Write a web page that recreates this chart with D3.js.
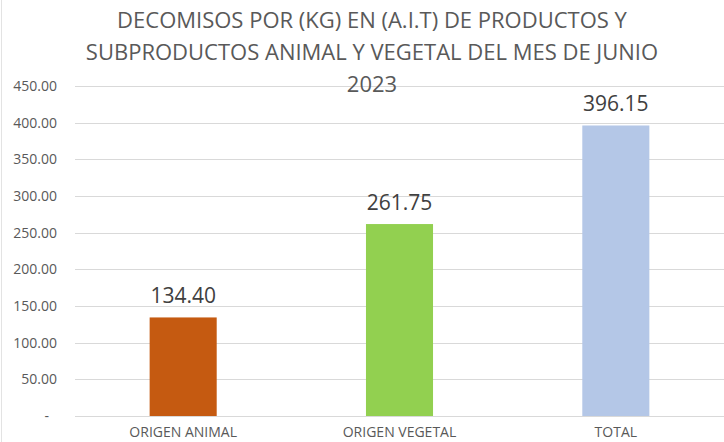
<!DOCTYPE html>
<html lang="es">
<head>
<meta charset="UTF-8">
<title>Decomisos junio 2023</title>
<script src="https://d3js.org/d3.v7.min.js"></script>
<style>
    body { margin: 0; background: #fff; font-family: "Open Sans", Arial, sans-serif; }
    .grid line { stroke: #d9d9d9; stroke-width: 1px; }
    .axis text { fill: #595959; font-size: 14px; font-family: "Open Sans", Arial, sans-serif; }
    .title { fill: #595959; font-size: 22px; text-anchor: middle; }
    .value-label { fill: #404040; font-size: 21px; text-anchor: middle; }
    .border { stroke: #e3e3e3; stroke-width: 1px; }
</style>
</head>
<body>
<svg id="chart" width="724" height="442"></svg>
<script>
    var categories = ["ORIGEN ANIMAL", "ORIGEN VEGETAL", "TOTAL"];
    var values = [134.40, 261.75, 396.15];
    var colors = ["#c55a11", "#92d050", "#b4c7e7"];
    var yTicks = [0, 50, 100, 150, 200, 250, 300, 350, 400, 450];
    var titleLines = [
        "DECOMISOS POR (KG) EN (A.I.T) DE PRODUCTOS Y",
        "SUBPRODUCTOS ANIMAL Y VEGETAL DEL MES DE JUNIO",
        "2023"
    ];

    var margin = {top: 86, right: 0, bottom: 26, left: 75};
    var width = 724, height = 442;

    var svg = d3.select("#chart");

    // faint frame edge on the left, like the screenshot
    svg.append("line")
        .attr("class", "border")
        .attr("x1", 1.5).attr("x2", 1.5)
        .attr("y1", 0).attr("y2", height);

    var x = d3.scaleBand()
        .domain(categories)
        .range([margin.left, width - margin.right])
        .paddingInner(0.69)
        .paddingOuter(0.345);

    var y = d3.scaleLinear()
        .domain([0, 450])
        .range([height - margin.bottom, margin.top]);

    // gridlines
    svg.append("g")
        .attr("class", "grid")
        .selectAll("line")
        .data(yTicks)
      .enter().append("line")
        .attr("x1", margin.left)
        .attr("x2", width)
        .attr("y1", d => Math.round(y(d)) + 0.5)
        .attr("y2", d => Math.round(y(d)) + 0.5);

    // y axis labels
    var yAxis = d3.axisLeft(y)
        .tickValues(yTicks)
        .tickSize(0)
        .tickPadding(0)
        .tickFormat(d => d === 0 ? "-" : d3.format(".2f")(d));

    svg.append("g")
        .attr("class", "axis")
        .attr("transform", "translate(" + (margin.left - 18) + ",0)")
        .call(yAxis)
        .call(g => g.select(".domain").remove())
        .call(g => g.selectAll("text").filter(d => d === 0).attr("dx", "-8px"));

    // x axis labels
    var xAxis = d3.axisBottom(x).tickSize(0).tickPadding(0);
    svg.append("g")
        .attr("class", "axis")
        .attr("transform", "translate(0," + (height - 15) + ")")
        .call(xAxis)
        .call(g => g.select(".domain").remove());

    // bars
    svg.selectAll(".bar")
        .data(values)
      .enter().append("rect")
        .attr("class", "bar")
        .attr("x", (d, i) => x(categories[i]))
        .attr("width", x.bandwidth())
        .attr("y", d => y(d))
        .attr("height", d => y(0) - y(d))
        .attr("fill", (d, i) => colors[i]);

    // value labels
    svg.selectAll(".value-label")
        .data(values)
      .enter().append("text")
        .attr("class", "value-label")
        .attr("x", (d, i) => x(categories[i]) + x.bandwidth() / 2)
        .attr("y", d => y(d) - 14)
        .text(d => d3.format(".2f")(d));

    // title
    svg.selectAll(".title")
        .data(titleLines)
      .enter().append("text")
        .attr("class", "title")
        .attr("x", 372)
        .attr("y", (d, i) => 28 + i * 32)
        .text(d => d);
</script>
</body>
</html>
